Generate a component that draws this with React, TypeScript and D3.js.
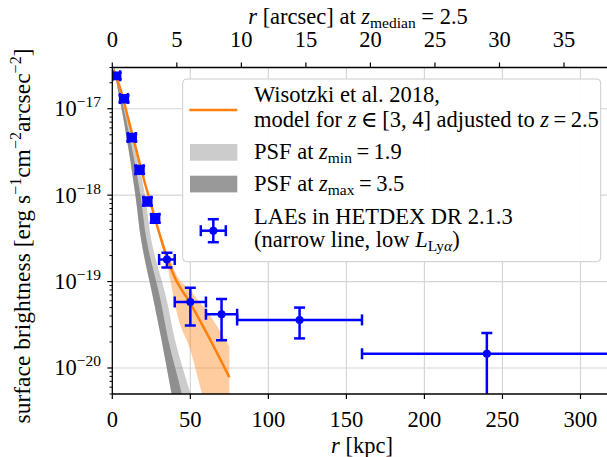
import React from "react";
import * as d3 from "d3";

// Surface-brightness profile of LAEs versus radius

const W = 607;
const H = 457;

// radial bins [kpc]
const binCentre = [2.5, 7.5, 12.5, 17.5, 22.5, 27.5, 35, 50, 70, 120, 240];
const binLo = [0, 5, 10, 15, 20, 25, 30, 40, 60, 80, 160];
const binHi = [5, 10, 15, 20, 25, 30, 40, 60, 80, 160, 320];
// stacked surface brightness [erg s^-1 cm^-2 arcsec^-2] and 1-sigma errors
const sbValue = [2.41e-17, 1.31e-17, 4.66e-18, 1.97e-18, 8.5e-19, 5.4e-19, 1.8e-19, 5.8e-20, 4.2e-20, 3.6e-20, 1.46e-20];
const sbError = [2.0e-18, 1.2e-18, 4.5e-19, 2.0e-19, 9e-20, 6e-20, 3.5e-20, 2.7e-20, 2.1e-20, 1.4e-20, 1.08e-20];

// Wisotzki et al. 2018 model profile
const modelR = [0.5, 5, 10, 15, 20, 25, 30, 35, 40, 50, 60, 75];
const modelSB = [2.82e-17, 1.74e-17, 7.94e-18, 3.55e-18, 1.58e-18, 7.6e-19, 3.7e-19, 1.9e-19, 1.12e-19, 5.6e-20, 2.63e-20, 7.8e-21];
// model uncertainty band
const bandR = [25, 30, 35, 42, 50, 57.3, 60, 75];
const bandUpper = [7.8e-19, 3.95e-19, 2.2e-19, 1.12e-19, 7.9e-20, 5.4e-20, 4.7e-20, 1.78e-20];
const bandLower = [7.4e-19, 3.3e-19, 1.6e-19, 3.9e-20, 1.62e-20, 5.2e-21, 3.5e-21, 5e-22];

// PSF profiles: radius of each band edge at fixed surface-brightness levels
const psfSB = [3e-17, 7e-18, 1e-18, 3e-19, 6e-20, 2.1e-20, 5e-21, 4e-21];
const psfInner = [0.8, 7.5, 14.8, 18.5, 26.5, 31.6, 38.0, 39.0];
const psfMid = [1.2, 9.2, 18.0, 22.0, 31.0, 35.9, 44.5, 45.6];
const psfOuter = [1.6, 10.5, 21.0, 25.0, 35.0, 40.2, 50.2, 51.8];

// axes
const xTicks = [0, 50, 100, 150, 200, 250, 300];
const arcsecTicks = [0, 5, 10, 15, 20, 25, 30, 35];
const kpcPerArcsec = 8.27;
const yDecades = [-20, -19, -18, -17];

const FONT = "'Liberation Serif', 'DejaVu Serif', serif";
const FS = 22.5;
const SUB = 15.5;
const BLUE = "#0000ff";
const ORANGE = "#ff7f0e";

const x = d3.scaleLinear().domain([0, 320]).range([112.3, 611.7]);
const y = d3.scaleLog().domain([5e-21, 3e-17]).range([394, 67.5]);

const left = x(0);
const right = x(320);
const top = y(3e-17);
const bottom = y(5e-21);

function ErrorBar({ cx, cy, x0, x1, y0, y1, cap }: any) {
  return (
    <g stroke={BLUE} strokeWidth={2.5} fill="none">
      <line x1={x0} x2={x1} y1={cy} y2={cy} />
      <line x1={cx} x2={cx} y1={y0} y2={y1} />
      <line x1={x0} x2={x0} y1={cy - cap} y2={cy + cap} />
      <line x1={x1} x2={x1} y1={cy - cap} y2={cy + cap} />
      <line x1={cx - cap} x2={cx + cap} y1={y0} y2={y0} />
      <line x1={cx - cap} x2={cx + cap} y1={y1} y2={y1} />
      <circle cx={cx} cy={cy} r={4} fill={BLUE} stroke="none" />
    </g>
  );
}

export default function App() {
  const modelLine = d3
    .line<number>()
    .x((_, i) => x(modelR[i]))
    .y((_, i) => y(modelSB[i]))
    .curve(d3.curveMonotoneX)(modelR);

  const modelBand = d3
    .area<number>()
    .x((_, i) => x(bandR[i]))
    .y0((_, i) => y(bandLower[i]))
    .y1((_, i) => y(bandUpper[i]))
    .curve(d3.curveMonotoneX)(bandR);

  const psfArea = (inner: number[], outer: number[]) =>
    d3
      .area<number>()
      .y((_, i) => y(psfSB[i]))
      .x0((_, i) => x(inner[i]))
      .x1((_, i) => x(outer[i]))
      .curve(d3.curveMonotoneY)(psfSB);

  const minorTicks: number[] = [];
  for (let e = -21; e <= -17; e++) {
    for (let m = 2; m <= 9; m++) {
      const v = m * Math.pow(10, e);
      if (v >= 5e-21 && v <= 3e-17) minorTicks.push(v);
    }
  }

  const cap = 5.5;

  return (
    <svg
      width={W}
      height={H}
      style={{ position: "fixed", left: 0, top: 0, background: "#fff" }}
      fontFamily={FONT}
    >
      <defs>
        <clipPath id="plotArea">
          <rect x={left} y={top} width={right - left} height={bottom - top} />
        </clipPath>
      </defs>
      <rect width={W} height={H} fill="#fff" />

      {/* grid */}
      <g stroke="#d6d6d6" strokeWidth={1.2}>
        {xTicks.slice(1).map((t) => (
          <line key={"gx" + t} x1={x(t)} x2={x(t)} y1={top} y2={bottom} />
        ))}
        {yDecades.map((e) => (
          <line key={"gy" + e} x1={left} x2={right} y1={y(Math.pow(10, e))} y2={y(Math.pow(10, e))} />
        ))}
      </g>

      <g clipPath="url(#plotArea)">
        <path d={psfArea(psfInner, psfOuter) || ""} fill="gray" fillOpacity={0.4} />
        <path d={psfArea(psfInner, psfMid) || ""} fill="gray" fillOpacity={0.8} />
        <path d={modelBand || ""} fill={ORANGE} fillOpacity={0.4} />
        <path d={modelLine || ""} fill="none" stroke={ORANGE} strokeWidth={2.5} />
        {binCentre.map((r, i) => {
          const lo = sbValue[i] - sbError[i];
          return (
            <ErrorBar
              key={"pt" + i}
              cx={x(r)}
              cy={y(sbValue[i])}
              x0={x(binLo[i])}
              x1={x(binHi[i])}
              y0={lo > 0 ? y(lo) : bottom + 20}
              y1={y(sbValue[i] + sbError[i])}
              cap={cap}
            />
          );
        })}
      </g>

      {/* spines */}
      <g stroke="#000" strokeWidth={1.3} fill="none">
        <line x1={left} x2={left} y1={top} y2={bottom} />
        <line x1={left} x2={W} y1={top} y2={top} />
        <line x1={left} x2={W} y1={bottom} y2={bottom} />
      </g>

      {/* bottom axis */}
      <g>
        {xTicks.map((t) => (
          <g key={"bx" + t}>
            <line x1={x(t)} x2={x(t)} y1={bottom} y2={bottom + 5} stroke="#000" strokeWidth={1.2} />
            <text x={x(t)} y={426.5} textAnchor="middle" fontSize={FS}>
              {t}
            </text>
          </g>
        ))}
        <text x={(left + right) / 2} y={453} textAnchor="middle" fontSize={FS}>
          <tspan fontStyle="italic">r</tspan> [kpc]
        </text>
      </g>

      {/* top axis */}
      <g>
        {arcsecTicks.map((t) => (
          <g key={"tx" + t}>
            <line
              x1={x(t * kpcPerArcsec)}
              x2={x(t * kpcPerArcsec)}
              y1={top}
              y2={top - 5}
              stroke="#000"
              strokeWidth={1.2}
            />
            <text x={x(t * kpcPerArcsec)} y={47} textAnchor="middle" fontSize={FS}>
              {t}
            </text>
          </g>
        ))}
        <text x={358} y={24} textAnchor="middle" fontSize={FS}>
          <tspan fontStyle="italic">r</tspan> [arcsec] at <tspan fontStyle="italic">z</tspan>
          <tspan fontSize={SUB} dy={4}>median</tspan>
          <tspan dy={-4}> = 2.5</tspan>
        </text>
      </g>

      {/* left axis */}
      <g>
        {yDecades.map((e) => (
          <g key={"ly" + e}>
            <line
              x1={left}
              x2={left - 5}
              y1={y(Math.pow(10, e))}
              y2={y(Math.pow(10, e))}
              stroke="#000"
              strokeWidth={1.2}
            />
            <text x={101} y={y(Math.pow(10, e)) + 7.5} textAnchor="end" fontSize={FS}>
              10
              <tspan fontSize={SUB} dy={-9}>
                {"\u2212" + -e}
              </tspan>
            </text>
          </g>
        ))}
        {minorTicks.map((v, i) => (
          <line key={"mn" + i} x1={left} x2={left - 2.8} y1={y(v)} y2={y(v)} stroke="#000" strokeWidth={1} />
        ))}
        <text transform={`translate(30,236) rotate(-90)`} textAnchor="middle" fontSize={23.5}>
          surface brightness [erg s<tspan fontSize={16} dy={-9}>{"\u22121"}</tspan>
          <tspan dy={9}>cm</tspan>
          <tspan fontSize={16} dy={-9}>{"\u22122"}</tspan>
          <tspan dy={9}>arcsec</tspan>
          <tspan fontSize={16} dy={-9}>{"\u22122"}</tspan>
          <tspan dy={9}>]</tspan>
        </text>
      </g>

      {/* legend */}
      <g>
        <rect
          x={182.7}
          y={79}
          width={418}
          height={182.7}
          rx={4}
          fill="#fff"
          fillOpacity={0.95}
          stroke="#cccccc"
          strokeWidth={1}
        />
        <line x1={189.3} x2={237.3} y1={110} y2={110} stroke={ORANGE} strokeWidth={2.5} />
        <text x={254} y={101.7} fontSize={FS}>
          Wisotzki et al. 2018,
        </text>
        <text x={254} y={126.7} fontSize={FS}>
          model for <tspan fontStyle="italic">z</tspan>
          <tspan>{"\u2009\u2208\u2009"}</tspan>[3, 4] adjusted to <tspan fontStyle="italic">z</tspan>
          <tspan>{"\u2009=\u20092.5"}</tspan>
        </text>

        <rect x={190} y={144} width={47.3} height={16.7} fill="gray" fillOpacity={0.4} />
        <text x={254} y={159.3} fontSize={FS}>
          PSF at <tspan fontStyle="italic">z</tspan>
          <tspan fontSize={SUB} dy={4}>min</tspan>
          <tspan dy={-4}>{"\u2009=\u20091.9"}</tspan>
        </text>

        <rect x={190} y={175.7} width={47.3} height={16.7} fill="gray" fillOpacity={0.8} />
        <text x={254} y={191} fontSize={FS}>
          PSF at <tspan fontStyle="italic">z</tspan>
          <tspan fontSize={SUB} dy={4}>max</tspan>
          <tspan dy={-4}>{"\u2009=\u20093.5"}</tspan>
        </text>

        <ErrorBar cx={213.3} cy={230.7} x0={200.8} x1={225.8} y0={242.2} y1={219.2} cap={5.5} />
        <text x={254} y={224} fontSize={FS}>
          LAEs in HETDEX DR 2.1.3
        </text>
        <text x={254} y={246.7} fontSize={FS}>
          (narrow line, low <tspan fontStyle="italic">L</tspan>
          <tspan fontSize={SUB} dy={4}>Ly</tspan>
          <tspan fontSize={SUB} fontStyle="italic">{"\u03b1"}</tspan>
          <tspan dy={-4}>)</tspan>
        </text>
      </g>
    </svg>
  );
}
